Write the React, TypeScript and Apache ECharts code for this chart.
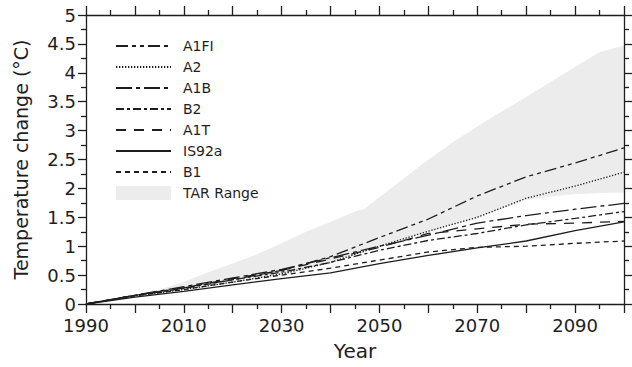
import React, { useEffect, useRef } from "react";
import * as echarts from "echarts";

const years = [1990, 2000, 2010, 2020, 2030, 2040, 2050, 2060, 2070, 2080, 2090, 2100];
const a1fi = [0, 0.15, 0.28, 0.42, 0.58, 0.82, 1.15, 1.47, 1.87, 2.2, 2.44, 2.7];
const a2 = [0, 0.14, 0.25, 0.38, 0.52, 0.72, 1.0, 1.26, 1.5, 1.83, 2.04, 2.28];
const a1b = [0, 0.15, 0.3, 0.45, 0.6, 0.8, 1.0, 1.19, 1.4, 1.53, 1.64, 1.74];
const b2 = [0, 0.15, 0.27, 0.42, 0.55, 0.72, 0.93, 1.1, 1.22, 1.37, 1.48, 1.6];
const a1t = [0, 0.15, 0.28, 0.44, 0.58, 0.78, 0.98, 1.22, 1.3, 1.38, 1.4, 1.43];
const is92a = [0, 0.12, 0.22, 0.33, 0.44, 0.54, 0.7, 0.84, 0.97, 1.09, 1.27, 1.42];
const b1 = [0, 0.14, 0.25, 0.38, 0.5, 0.62, 0.76, 0.9, 0.98, 1.0, 1.05, 1.09];

const bandUpperYears = [1990, 1995, 2000, 2005, 2010, 2015, 2020, 2025, 2030, 2035, 2040, 2045, 2047, 2050, 2055, 2060, 2065, 2070, 2075, 2080, 2085, 2090, 2095, 2100];
const bandUpper = [0, 0.07, 0.16, 0.25, 0.38, 0.55, 0.7, 0.86, 1.05, 1.25, 1.42, 1.6, 1.65, 1.85, 2.17, 2.5, 2.8, 3.07, 3.33, 3.58, 3.84, 4.1, 4.36, 4.47];
const bandLowerYears = [1990, 2000, 2010, 2020, 2030, 2040, 2050, 2060, 2070, 2080, 2085, 2090, 2095, 2100];
const bandLower = [0, 0.13, 0.24, 0.36, 0.5, 0.7, 0.98, 1.25, 1.49, 1.8, 1.86, 1.9, 1.92, 1.93];

const xTickLabels = ["1990", "2010", "2030", "2050", "2070", "2090"];
const yTickLabels = ["0", "0.5", "1", "1.5", "2", "2.5", "3", "3.5", "4", "4.5", "5"];

const FONT = "'DejaVu Sans', 'Liberation Sans', Arial, sans-serif";
const INK = "#1e1e1e";
const BAND = "#ececec";

const pairs = (xs: number[], ys: number[]) => xs.map((x, i) => [x, ys[i]]);

const lineDefs: { name: string; data: number[]; dash: any }[] = [
  { name: "A1FI", data: a1fi, dash: [12, 4, 4, 4, 4, 4] },
  { name: "A2", data: a2, dash: [1.3, 1.7] },
  { name: "A1B", data: a1b, dash: [16, 4, 4, 4] },
  { name: "B2", data: b2, dash: [8, 3, 3, 3] },
  { name: "A1T", data: a1t, dash: [10, 8] },
  { name: "IS92a", data: is92a, dash: "solid" },
  { name: "B1", data: b1, dash: [5, 4] },
];

export default function App() {
  const ref = useRef<HTMLDivElement>(null);
  useEffect(() => {
    if (!ref.current) return;
    const chart = echarts.init(ref.current, undefined, { renderer: "svg" });
    const axisCommon = {
      type: "value" as const,
      axisLine: { show: true, onZero: false, lineStyle: { color: INK, width: 1.3 } },
      splitLine: { show: false },
    };
    const series: any[] = [
      {
        name: "TAR Range",
        type: "line",
        data: pairs(bandUpperYears, bandUpper),
        symbol: "none",
        color: BAND,
        lineStyle: { width: 0, color: BAND },
        areaStyle: { color: BAND, opacity: 1 },
        z: 1,
      },
      {
        name: "_bandLower",
        type: "line",
        data: pairs(bandLowerYears, bandLower),
        symbol: "none",
        color: "#ffffff",
        lineStyle: { width: 0 },
        areaStyle: { color: "#ffffff", opacity: 1 },
        z: 1,
        silent: true,
      },
      ...lineDefs.map((d) => ({
        name: d.name,
        type: "line",
        data: pairs(years, d.data),
        symbol: "none",
        color: INK,
        lineStyle: { color: INK, width: 1.3, type: d.dash },
        z: 3,
      })),
    ];
    chart.setOption({
      animation: false,
      backgroundColor: "#ffffff",
      grid: { left: 86, right: 8, top: 15, bottom: 63 },
      legend: {
        orient: "vertical",
        left: 110,
        top: 34,
        itemWidth: 55,
        itemHeight: 14,
        itemGap: 7,
        textStyle: { fontFamily: FONT, fontSize: 14, color: INK, padding: [0, 0, 0, 7] },
        data: [
          ...lineDefs.map((d) => ({ name: d.name, itemStyle: { opacity: 0 } })),
          { name: "TAR Range", icon: "rect", itemStyle: { color: BAND, opacity: 1 } },
        ],
      },
      xAxis: [
        {
          ...axisCommon,
          min: 1990,
          max: 2100,
          interval: 10,
          position: "bottom",
          name: "Year",
          nameLocation: "middle",
          nameGap: 37,
          nameTextStyle: { fontFamily: FONT, fontSize: 20, color: INK },
          axisTick: { show: true, inside: false, length: 9, lineStyle: { color: INK, width: 1.3 } },
          minorTick: { show: true, splitNumber: 2, length: 5, lineStyle: { color: INK, width: 1.3 } },
          minorSplitLine: { show: false },
          axisLabel: {
            fontFamily: FONT,
            fontSize: 18,
            color: INK,
            margin: 12,
            showMaxLabel: false,
            formatter: (v: number) => (xTickLabels.includes(String(v)) ? String(v) : ""),
          },
          z: 10,
        },
        {
          ...axisCommon,
          min: 1990,
          max: 2100,
          interval: 10,
          position: "top",
          axisTick: { show: true, inside: false, length: 9, lineStyle: { color: INK, width: 1.3 } },
          minorTick: { show: true, splitNumber: 2, length: 5, lineStyle: { color: INK, width: 1.3 } },
          axisLabel: { show: false },
          z: 10,
        },
      ],
      yAxis: [
        {
          ...axisCommon,
          min: 0,
          max: 5,
          interval: 0.5,
          position: "left",
          name: "Temperature change (°C)",
          nameLocation: "middle",
          nameGap: 56,
          nameTextStyle: { fontFamily: FONT, fontSize: 19, color: INK },
          axisTick: { show: true, inside: false, length: 8, lineStyle: { color: INK, width: 1.3 } },
          minorTick: { show: true, splitNumber: 2, length: 5, lineStyle: { color: INK, width: 1.3 } },
          axisLabel: {
            fontFamily: FONT,
            fontSize: 18,
            color: INK,
            margin: 10,
            formatter: (v: number) => {
              const s = String(Math.round(v * 10) / 10);
              return yTickLabels.includes(s) ? s : "";
            },
          },
          z: 10,
        },
        {
          ...axisCommon,
          min: 0,
          max: 5,
          interval: 0.5,
          position: "right",
          axisTick: { show: true, inside: false, length: 8, lineStyle: { color: INK, width: 1.3 } },
          minorTick: { show: true, splitNumber: 2, length: 5, lineStyle: { color: INK, width: 1.3 } },
          axisLabel: { show: false },
          z: 10,
        },
      ],
      series,
    });
    return () => chart.dispose();
  }, []);
  return <div ref={ref} style={{ width: 632, height: 367, position: "absolute", left: 0, top: 0 }} />;
}
